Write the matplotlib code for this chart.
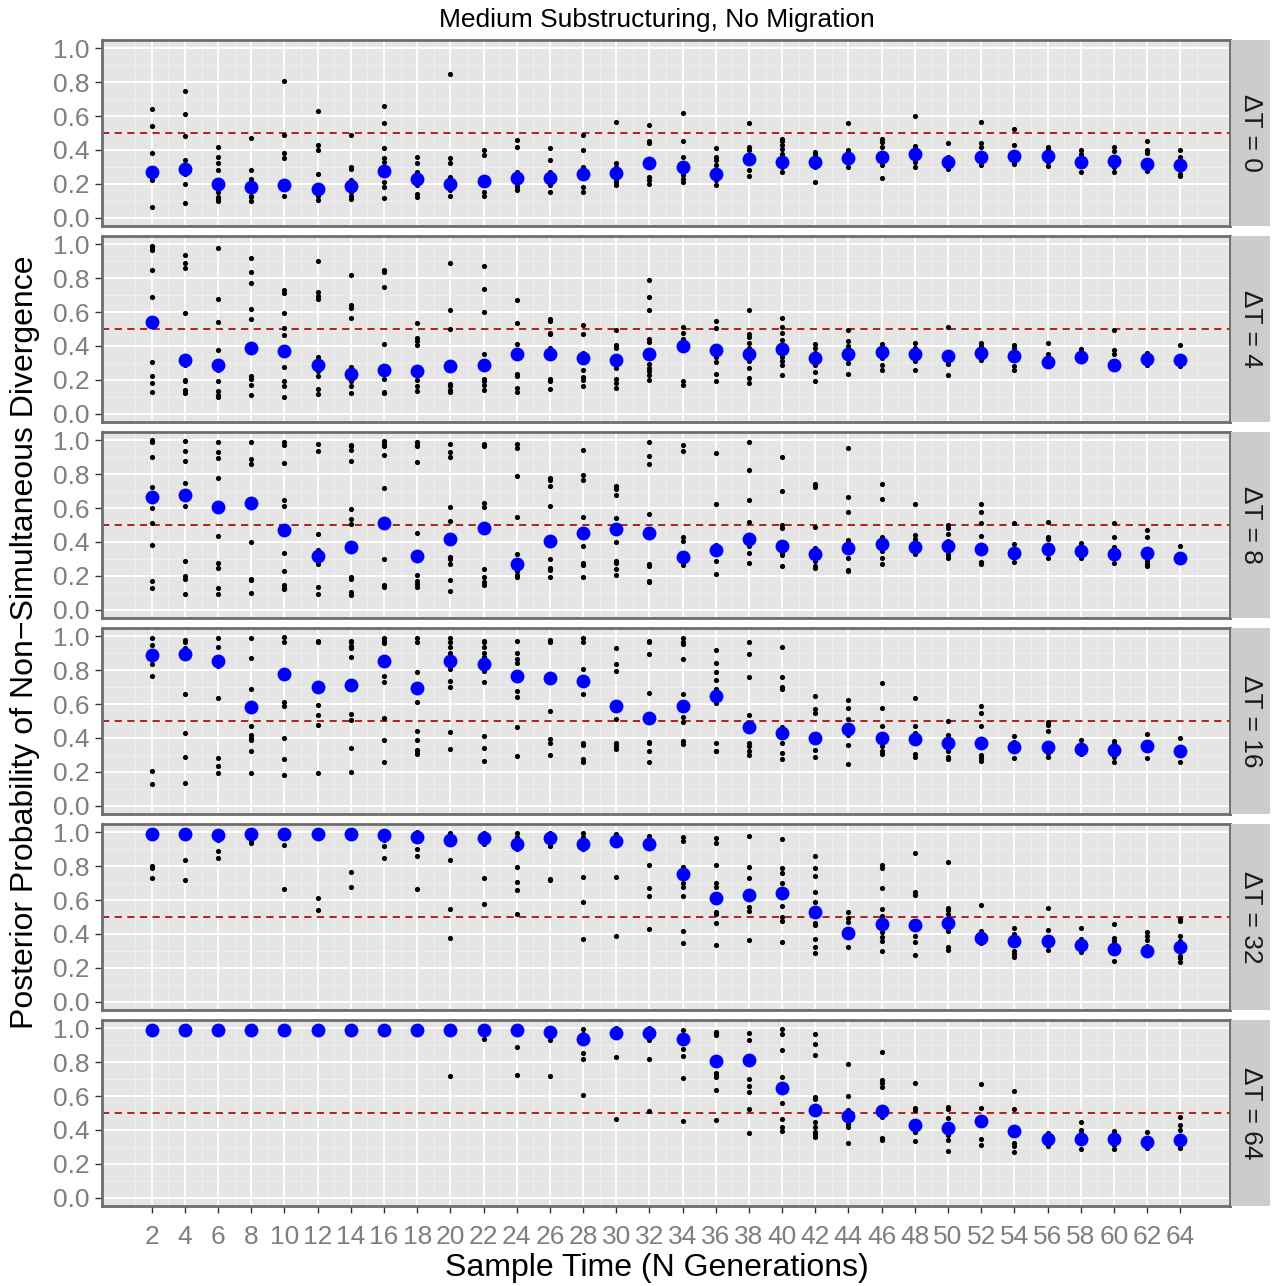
import matplotlib
matplotlib.use('Agg')
import matplotlib.pyplot as plt
import numpy as np

plt.rcParams['font.family'] = ['Liberation Sans', 'DejaVu Sans']

# sample times (x axis)
times = [2, 4, 6, 8, 10, 12, 14, 16, 18, 20, 22, 24, 26, 28, 30, 32,
         34, 36, 38, 40, 42, 44, 46, 48, 50, 52, 54, 56, 58, 60, 62, 64]
panel_labels = ['ΔT = 0', 'ΔT = 4', 'ΔT = 8', 'ΔT = 16', 'ΔT = 32', 'ΔT = 64']

# replicate posterior probabilities (black dots), one list per sample time
dt0_reps = [
    [0.64, 0.54, 0.38, 0.28, 0.27, 0.25, 0.24, 0.22, 0.065],
    [0.75, 0.61, 0.48, 0.34, 0.30, 0.28, 0.26, 0.20, 0.085],
    [0.42, 0.36, 0.32, 0.28, 0.21, 0.20, 0.15, 0.12, 0.11, 0.10],
    [0.47, 0.28, 0.23, 0.21, 0.18, 0.17, 0.13, 0.12, 0.10],
    [0.81, 0.49, 0.38, 0.35, 0.20, 0.19, 0.18, 0.125],
    [0.63, 0.43, 0.40, 0.26, 0.17, 0.16, 0.15, 0.13, 0.105],
    [0.49, 0.30, 0.29, 0.22, 0.19, 0.17, 0.15, 0.13, 0.11],
    [0.66, 0.56, 0.41, 0.355, 0.33, 0.27, 0.25, 0.21, 0.18, 0.115],
    [0.36, 0.32, 0.27, 0.23, 0.22, 0.19, 0.14, 0.12],
    [0.85, 0.35, 0.32, 0.24, 0.20, 0.18, 0.16, 0.125],
    [0.40, 0.37, 0.23, 0.22, 0.20, 0.19, 0.15, 0.13],
    [0.46, 0.42, 0.27, 0.24, 0.22, 0.20, 0.18, 0.16],
    [0.41, 0.34, 0.27, 0.25, 0.24, 0.22, 0.19, 0.15],
    [0.49, 0.40, 0.30, 0.29, 0.26, 0.24, 0.18, 0.15],
    [0.565, 0.32, 0.30, 0.27, 0.25, 0.23, 0.21, 0.19],
    [0.55, 0.45, 0.44, 0.32, 0.31, 0.30, 0.24, 0.22, 0.20],
    [0.62, 0.45, 0.36, 0.32, 0.30, 0.28, 0.25, 0.23, 0.21],
    [0.41, 0.36, 0.34, 0.31, 0.27, 0.25, 0.22, 0.195],
    [0.56, 0.42, 0.40, 0.36, 0.35, 0.33, 0.28, 0.245],
    [0.465, 0.45, 0.43, 0.405, 0.375, 0.34, 0.32, 0.30, 0.27],
    [0.39, 0.375, 0.36, 0.335, 0.32, 0.31, 0.30, 0.21],
    [0.56, 0.40, 0.38, 0.37, 0.36, 0.34, 0.33, 0.32, 0.30],
    [0.465, 0.445, 0.42, 0.37, 0.35, 0.34, 0.31, 0.235],
    [0.60, 0.425, 0.405, 0.38, 0.36, 0.35, 0.33, 0.30],
    [0.44, 0.36, 0.35, 0.34, 0.33, 0.32, 0.31, 0.29],
    [0.565, 0.44, 0.415, 0.37, 0.35, 0.34, 0.33, 0.31],
    [0.525, 0.43, 0.38, 0.36, 0.35, 0.34, 0.33, 0.315],
    [0.42, 0.405, 0.38, 0.37, 0.35, 0.34, 0.33, 0.305],
    [0.40, 0.375, 0.35, 0.34, 0.33, 0.32, 0.31, 0.27],
    [0.415, 0.395, 0.35, 0.34, 0.32, 0.31, 0.30, 0.27],
    [0.45, 0.40, 0.38, 0.32, 0.31, 0.30, 0.29, 0.275],
    [0.40, 0.36, 0.32, 0.30, 0.29, 0.28, 0.26, 0.245],
]
dt4_reps = [
    [0.99, 0.985, 0.97, 0.85, 0.69, 0.305, 0.22, 0.18, 0.125],
    [0.94, 0.89, 0.86, 0.595, 0.34, 0.32, 0.29, 0.20, 0.19, 0.14, 0.12],
    [0.98, 0.68, 0.54, 0.375, 0.29, 0.26, 0.19, 0.135, 0.11, 0.10],
    [0.92, 0.835, 0.77, 0.62, 0.56, 0.22, 0.205, 0.17, 0.11],
    [0.73, 0.71, 0.595, 0.505, 0.465, 0.275, 0.19, 0.16, 0.10],
    [0.90, 0.72, 0.695, 0.675, 0.335, 0.29, 0.25, 0.22, 0.145, 0.115],
    [0.82, 0.64, 0.625, 0.565, 0.275, 0.23, 0.195, 0.16, 0.12],
    [0.85, 0.84, 0.75, 0.41, 0.26, 0.205, 0.13, 0.12],
    [0.535, 0.445, 0.43, 0.405, 0.27, 0.25, 0.20, 0.165, 0.135],
    [0.89, 0.61, 0.50, 0.175, 0.16, 0.14, 0.125],
    [0.87, 0.735, 0.60, 0.355, 0.205, 0.19, 0.17, 0.14],
    [0.67, 0.535, 0.41, 0.235, 0.22, 0.15, 0.13],
    [0.56, 0.55, 0.475, 0.47, 0.385, 0.205, 0.19, 0.145],
    [0.525, 0.47, 0.36, 0.255, 0.215, 0.20, 0.16],
    [0.495, 0.405, 0.39, 0.27, 0.205, 0.18, 0.15],
    [0.79, 0.69, 0.61, 0.44, 0.425, 0.295, 0.27, 0.25, 0.23, 0.20],
    [0.51, 0.475, 0.44, 0.42, 0.40, 0.38, 0.195, 0.17],
    [0.55, 0.505, 0.39, 0.38, 0.36, 0.335, 0.305, 0.235, 0.19],
    [0.61, 0.47, 0.455, 0.42, 0.385, 0.335, 0.31, 0.27, 0.21, 0.18],
    [0.565, 0.51, 0.475, 0.435, 0.38, 0.335, 0.31, 0.29, 0.225],
    [0.41, 0.385, 0.357, 0.33, 0.29, 0.245, 0.195],
    [0.495, 0.43, 0.40, 0.35, 0.325, 0.30, 0.235],
    [0.41, 0.385, 0.365, 0.33, 0.285, 0.26],
    [0.42, 0.385, 0.355, 0.31, 0.26],
    [0.51, 0.35, 0.34, 0.295, 0.225],
    [0.42, 0.40, 0.36, 0.35, 0.34, 0.33, 0.315],
    [0.405, 0.385, 0.34, 0.28, 0.26],
    [0.42, 0.35, 0.31, 0.295],
    [0.38, 0.365, 0.333, 0.31],
    [0.495, 0.375, 0.35, 0.29, 0.275],
    [0.36, 0.32, 0.29],
    [0.405, 0.315, 0.28],
]
dt8_reps = [
    [1.0, 0.99, 0.905, 0.725, 0.60, 0.51, 0.38, 0.17, 0.13],
    [0.995, 0.94, 0.88, 0.75, 0.61, 0.29, 0.20, 0.18, 0.09],
    [0.99, 0.93, 0.895, 0.775, 0.435, 0.275, 0.245, 0.13, 0.09],
    [0.99, 0.89, 0.86, 0.40, 0.18, 0.175, 0.10],
    [0.99, 0.975, 0.865, 0.645, 0.61, 0.335, 0.23, 0.145, 0.13, 0.12],
    [0.98, 0.935, 0.445, 0.35, 0.32, 0.27, 0.135, 0.09],
    [0.975, 0.965, 0.945, 0.88, 0.595, 0.535, 0.505, 0.195, 0.18, 0.105, 0.085],
    [0.995, 0.98, 0.97, 0.915, 0.72, 0.30, 0.145, 0.135],
    [0.99, 0.975, 0.965, 0.875, 0.455, 0.205, 0.17, 0.15, 0.135],
    [0.98, 0.93, 0.90, 0.605, 0.525, 0.31, 0.30, 0.27, 0.175, 0.11],
    [0.98, 0.97, 0.63, 0.605, 0.24, 0.19, 0.165, 0.145],
    [0.98, 0.955, 0.79, 0.55, 0.33, 0.225, 0.205, 0.19],
    [0.78, 0.765, 0.73, 0.61, 0.30, 0.245, 0.235, 0.19],
    [0.945, 0.795, 0.765, 0.55, 0.375, 0.275, 0.265, 0.195],
    [0.73, 0.71, 0.675, 0.54, 0.40, 0.29, 0.275, 0.24, 0.205],
    [0.99, 0.91, 0.86, 0.565, 0.27, 0.26, 0.17, 0.16],
    [0.975, 0.94, 0.43, 0.405, 0.32, 0.30, 0.265],
    [0.925, 0.625, 0.38, 0.35, 0.34, 0.29, 0.21],
    [0.99, 0.825, 0.645, 0.52, 0.44, 0.375, 0.335, 0.275],
    [0.905, 0.70, 0.50, 0.485, 0.335, 0.325, 0.26],
    [0.74, 0.725, 0.49, 0.365, 0.30, 0.29, 0.26, 0.245],
    [0.955, 0.665, 0.575, 0.41, 0.305, 0.235, 0.225],
    [0.74, 0.655, 0.43, 0.415, 0.345, 0.305, 0.27],
    [0.625, 0.44, 0.415, 0.36, 0.35, 0.33],
    [0.50, 0.485, 0.445, 0.405, 0.34, 0.325, 0.305],
    [0.625, 0.575, 0.51, 0.435, 0.28, 0.27],
    [0.51, 0.385, 0.35, 0.28],
    [0.52, 0.43, 0.415, 0.34, 0.305],
    [0.395, 0.36, 0.35, 0.33, 0.305],
    [0.51, 0.43, 0.37, 0.275],
    [0.47, 0.43, 0.29, 0.27, 0.255],
    [0.375, 0.29],
]
dt16_reps = [
    [0.99, 0.95, 0.91, 0.90, 0.88, 0.87, 0.84, 0.765, 0.205, 0.125],
    [0.98, 0.97, 0.93, 0.90, 0.66, 0.43, 0.29, 0.135],
    [0.99, 0.935, 0.88, 0.87, 0.86, 0.825, 0.635, 0.28, 0.235, 0.195],
    [0.99, 0.87, 0.69, 0.47, 0.42, 0.40, 0.39, 0.32, 0.19],
    [0.995, 0.965, 0.78, 0.61, 0.59, 0.40, 0.275, 0.18],
    [0.975, 0.965, 0.70, 0.595, 0.535, 0.475, 0.19],
    [0.975, 0.965, 0.945, 0.93, 0.88, 0.54, 0.505, 0.34, 0.20],
    [0.99, 0.975, 0.96, 0.86, 0.765, 0.73, 0.52, 0.39, 0.26],
    [0.99, 0.965, 0.79, 0.61, 0.44, 0.39, 0.33, 0.32, 0.305],
    [0.99, 0.965, 0.935, 0.90, 0.86, 0.81, 0.735, 0.70, 0.435, 0.333],
    [0.975, 0.965, 0.94, 0.90, 0.88, 0.835, 0.795, 0.73, 0.41, 0.34, 0.265],
    [0.975, 0.905, 0.865, 0.845, 0.765, 0.68, 0.64, 0.465, 0.295],
    [0.98, 0.965, 0.76, 0.75, 0.74, 0.56, 0.395, 0.37, 0.30],
    [0.99, 0.965, 0.805, 0.735, 0.66, 0.37, 0.36, 0.275, 0.255],
    [0.93, 0.835, 0.795, 0.59, 0.51, 0.37, 0.355, 0.335],
    [0.975, 0.965, 0.895, 0.665, 0.52, 0.375, 0.37, 0.325, 0.255],
    [0.99, 0.965, 0.955, 0.865, 0.66, 0.59, 0.525, 0.495, 0.38, 0.365],
    [0.92, 0.845, 0.79, 0.74, 0.69, 0.645, 0.605, 0.37, 0.325, 0.32],
    [0.97, 0.895, 0.76, 0.535, 0.465, 0.37, 0.355, 0.325, 0.30],
    [0.94, 0.76, 0.70, 0.69, 0.465, 0.43, 0.37, 0.31, 0.275],
    [0.645, 0.57, 0.55, 0.41, 0.40, 0.375, 0.33, 0.29],
    [0.625, 0.575, 0.51, 0.455, 0.44, 0.415, 0.36, 0.245],
    [0.725, 0.575, 0.47, 0.40, 0.38, 0.35, 0.32, 0.305],
    [0.635, 0.47, 0.43, 0.395, 0.305, 0.29],
    [0.50, 0.415, 0.37, 0.325, 0.29, 0.275],
    [0.59, 0.545, 0.47, 0.395, 0.37, 0.30, 0.28, 0.265],
    [0.41, 0.375, 0.36, 0.345, 0.28],
    [0.495, 0.475, 0.44, 0.345, 0.31, 0.29],
    [0.39, 0.35, 0.34, 0.333, 0.32, 0.305],
    [0.38, 0.363, 0.33, 0.29, 0.26],
    [0.425, 0.36, 0.35, 0.34, 0.28],
    [0.40, 0.33, 0.32, 0.31, 0.26],
]
dt32_reps = [
    [1.0, 1.0, 1.0, 1.0, 1.0, 0.99, 0.80, 0.79, 0.73],
    [1.0, 1.0, 1.0, 0.99, 0.97, 0.84, 0.72],
    [1.0, 1.0, 0.99, 0.98, 0.955, 0.89, 0.85],
    [1.0, 1.0, 1.0, 0.99, 0.95, 0.935],
    [1.0, 1.0, 1.0, 0.99, 0.925, 0.665],
    [1.0, 1.0, 1.0, 1.0, 1.0, 0.61, 0.54],
    [1.0, 1.0, 1.0, 1.0, 1.0, 0.765, 0.675],
    [1.0, 1.0, 0.99, 0.98, 0.955, 0.92, 0.85],
    [1.0, 0.99, 0.98, 0.97, 0.905, 0.86, 0.665],
    [0.995, 0.98, 0.96, 0.95, 0.835, 0.55, 0.375],
    [0.995, 0.98, 0.965, 0.93, 0.73, 0.575],
    [0.995, 0.975, 0.93, 0.90, 0.795, 0.705, 0.66, 0.52],
    [0.995, 0.98, 0.97, 0.92, 0.725, 0.72],
    [0.995, 0.975, 0.93, 0.90, 0.735, 0.59, 0.37],
    [0.99, 0.96, 0.95, 0.94, 0.735, 0.39],
    [0.98, 0.95, 0.93, 0.805, 0.67, 0.625, 0.43],
    [0.975, 0.95, 0.795, 0.755, 0.70, 0.68, 0.625, 0.42, 0.345],
    [0.97, 0.935, 0.805, 0.70, 0.68, 0.61, 0.53, 0.52, 0.465, 0.335],
    [0.98, 0.795, 0.73, 0.64, 0.63, 0.625, 0.56, 0.535, 0.365],
    [0.96, 0.79, 0.76, 0.70, 0.64, 0.565, 0.50, 0.475, 0.355],
    [0.86, 0.79, 0.74, 0.645, 0.59, 0.53, 0.465, 0.45, 0.37, 0.325, 0.29],
    [0.53, 0.495, 0.47, 0.405, 0.39, 0.32],
    [0.81, 0.79, 0.67, 0.55, 0.505, 0.46, 0.41, 0.38, 0.36, 0.30],
    [0.88, 0.645, 0.63, 0.45, 0.39, 0.355, 0.275],
    [0.825, 0.555, 0.54, 0.52, 0.47, 0.465, 0.42, 0.32, 0.305],
    [0.57, 0.42, 0.40, 0.375, 0.345],
    [0.435, 0.40, 0.36, 0.30, 0.28, 0.265],
    [0.555, 0.425, 0.36, 0.305],
    [0.435, 0.37, 0.335, 0.295],
    [0.46, 0.375, 0.36, 0.31, 0.305, 0.24],
    [0.41, 0.39, 0.365, 0.33, 0.30, 0.28],
    [0.49, 0.475, 0.39, 0.36, 0.32, 0.27, 0.255, 0.235],
]
dt64_reps = [
    [1.0, 1.0, 1.0, 1.0, 1.0],
    [1.0, 1.0, 1.0, 1.0, 1.0],
    [1.0, 1.0, 1.0, 1.0, 1.0],
    [1.0, 1.0, 1.0, 1.0, 1.0],
    [1.0, 1.0, 1.0, 1.0, 1.0],
    [1.0, 1.0, 1.0, 1.0, 1.0],
    [1.0, 1.0, 1.0, 1.0, 1.0],
    [1.0, 1.0, 1.0, 1.0, 1.0],
    [1.0, 1.0, 1.0, 1.0, 1.0],
    [1.0, 1.0, 1.0, 1.0, 0.72],
    [1.0, 1.0, 0.99, 0.94],
    [1.0, 1.0, 1.0, 0.89, 0.725],
    [1.0, 0.99, 0.98, 0.93, 0.72],
    [0.995, 0.97, 0.95, 0.935, 0.855, 0.82, 0.605],
    [1.0, 0.99, 0.975, 0.955, 0.83, 0.465],
    [1.0, 0.98, 0.975, 0.93, 0.82, 0.51],
    [0.99, 0.95, 0.94, 0.88, 0.84, 0.705, 0.455],
    [0.98, 0.97, 0.96, 0.81, 0.735, 0.725, 0.71, 0.635, 0.46],
    [0.975, 0.93, 0.815, 0.70, 0.66, 0.625, 0.525, 0.38],
    [0.995, 0.965, 0.87, 0.71, 0.65, 0.56, 0.465, 0.42, 0.395],
    [0.97, 0.91, 0.845, 0.595, 0.58, 0.52, 0.445, 0.42, 0.39, 0.375, 0.36],
    [0.79, 0.60, 0.52, 0.48, 0.47, 0.435, 0.42, 0.325],
    [0.86, 0.695, 0.675, 0.655, 0.51, 0.475, 0.355, 0.34],
    [0.675, 0.53, 0.52, 0.43, 0.39, 0.335],
    [0.535, 0.525, 0.47, 0.41, 0.395, 0.37, 0.34, 0.275],
    [0.67, 0.53, 0.475, 0.45, 0.445, 0.345, 0.31],
    [0.63, 0.525, 0.395, 0.325, 0.305, 0.27],
    [0.38, 0.36, 0.345, 0.33, 0.32, 0.305],
    [0.445, 0.40, 0.38, 0.345, 0.29],
    [0.395, 0.36, 0.345, 0.34, 0.32, 0.31, 0.29],
    [0.39, 0.34, 0.33, 0.32, 0.31, 0.295],
    [0.475, 0.43, 0.40, 0.34, 0.295],
]

# summary values (blue dots)
dt0_med = [0.27, 0.29, 0.20, 0.18, 0.19, 0.17, 0.185, 0.275, 0.23, 0.20, 0.215, 0.235, 0.235, 0.257, 0.263, 0.32,
           0.30, 0.26, 0.345, 0.33, 0.33, 0.35, 0.36, 0.375, 0.33, 0.36, 0.365, 0.365, 0.33, 0.335, 0.315, 0.31]
dt4_med = [0.54, 0.315, 0.29, 0.39, 0.37, 0.29, 0.235, 0.26, 0.25, 0.28, 0.285, 0.355, 0.35, 0.33, 0.315, 0.355,
           0.40, 0.375, 0.355, 0.38, 0.33, 0.35, 0.365, 0.355, 0.34, 0.357, 0.34, 0.305, 0.333, 0.29, 0.32, 0.315]
dt8_med = [0.665, 0.68, 0.605, 0.63, 0.47, 0.315, 0.37, 0.51, 0.315, 0.42, 0.48, 0.27, 0.405, 0.455, 0.475, 0.455,
           0.31, 0.355, 0.415, 0.375, 0.33, 0.365, 0.39, 0.37, 0.375, 0.357, 0.333, 0.357, 0.345, 0.33, 0.333, 0.305]
dt16_med = [0.89, 0.895, 0.857, 0.58, 0.78, 0.70, 0.715, 0.857, 0.695, 0.857, 0.835, 0.765, 0.757, 0.735, 0.59, 0.52,
            0.59, 0.645, 0.465, 0.43, 0.40, 0.455, 0.40, 0.395, 0.37, 0.37, 0.345, 0.345, 0.333, 0.33, 0.35, 0.32]
dt32_med = [0.99, 0.99, 0.985, 0.99, 0.99, 0.99, 0.99, 0.985, 0.975, 0.955, 0.965, 0.93, 0.97, 0.93, 0.95, 0.93,
            0.755, 0.61, 0.63, 0.64, 0.53, 0.405, 0.46, 0.45, 0.465, 0.375, 0.36, 0.36, 0.335, 0.31, 0.30, 0.32]
dt64_med = [0.99, 0.99, 0.99, 0.99, 0.99, 0.99, 0.99, 0.99, 0.99, 0.99, 0.99, 0.99, 0.98, 0.935, 0.975, 0.975,
            0.94, 0.81, 0.815, 0.65, 0.52, 0.48, 0.51, 0.43, 0.41, 0.45, 0.395, 0.345, 0.345, 0.345, 0.33, 0.34]

all_reps = [dt0_reps, dt4_reps, dt8_reps, dt16_reps, dt32_reps, dt64_reps]
all_med = [dt0_med, dt4_med, dt8_med, dt16_med, dt32_med, dt64_med]

W, H = 1274, 1286


def frac(x0, y0, x1, y1):
    return [x0 / W, 1 - y1 / H, (x1 - x0) / W, (y1 - y0) / H]


fig = plt.figure(figsize=(W / 100, H / 100), dpi=100)
fig.patch.set_facecolor('white')

tops = [40, 236, 432, 628, 824, 1020]
ph = 186
for i in range(6):
    top = tops[i]
    ax = fig.add_axes(frac(102, top, 1230, top + ph))
    ax.set_facecolor('#E5E5E5')
    ax.set_xlim(-1, 67)
    ax.set_ylim(-0.05, 1.05)
    ax.set_xticks(times)
    ax.set_xticks(np.arange(1, 67, 2), minor=True)
    ax.set_yticks([0.0, 0.2, 0.4, 0.6, 0.8, 1.0])
    ax.set_yticks([0.1, 0.3, 0.5, 0.7, 0.9], minor=True)
    ax.set_yticklabels(['0.0', '0.2', '0.4', '0.6', '0.8', '1.0'])
    ax.grid(which='major', color='white', lw=1.3)
    ax.grid(which='minor', color='#F2F2F2', lw=0.5)
    ax.set_axisbelow(True)
    ax.tick_params(which='minor', length=0)
    ax.tick_params(axis='y', which='major', length=5, width=1, color='#333333',
                   labelsize=19, labelcolor='#7F7F7F', pad=4)
    if i < 5:
        ax.tick_params(axis='x', which='major', length=0, labelbottom=False)
    else:
        ax.tick_params(axis='x', which='major', length=5, width=1, color='#333333',
                       labelsize=19, labelcolor='#7F7F7F', pad=9)
    for sp in ax.spines.values():
        sp.set_color('#6E6E6E')
        sp.set_linewidth(2)

    ax.axhline(0.5, color='#B01010', lw=1.3, ls=(0, (4, 3)), zorder=2)
    reps = all_reps[i]
    for t, r in zip(times, reps):
        ax.scatter([t] * len(r), r, s=14, c='black', lw=0, zorder=3)
    ax.scatter(times, all_med[i], s=100, c='#0000FF', lw=0, zorder=4)

    sax = fig.add_axes(frac(1231, top, 1270, top + ph))
    sax.set_facecolor('#CCCCCC')
    sax.set_xticks([])
    sax.set_yticks([])
    for sp in sax.spines.values():
        sp.set_visible(False)
    sax.text(0.5, 0.5, panel_labels[i], rotation=-90, ha='center', va='center',
             fontsize=19, color='#1A1A1A', transform=sax.transAxes)

fig.text(657 / W, 1 - 20 / H, 'Medium Substructuring, No Migration',
         ha='center', va='center', fontsize=19)
fig.text(657 / W, 1 - 1268 / H, 'Sample Time (N Generations)',
         ha='center', va='center', fontsize=23)
fig.text(25 / W, 1 - 642 / H, 'Posterior Probability of Non\u2212Simultaneous Divergence',
         ha='center', va='center', rotation=90, fontsize=23)

fig.savefig('out.png', dpi=100)
